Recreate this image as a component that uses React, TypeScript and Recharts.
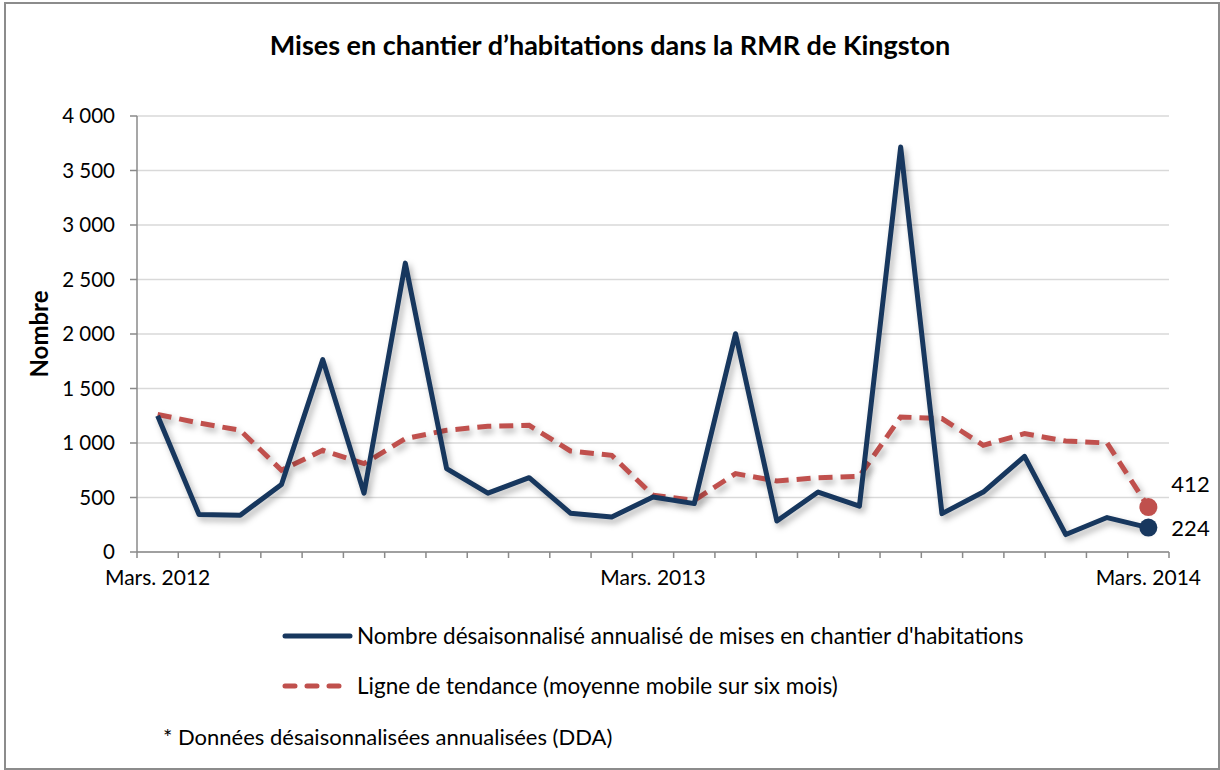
import React from "react";
import { LineChart, Line, XAxis, YAxis, CartesianGrid } from "recharts";

const months = [
	"Mars 2012", "Avr. 2012", "Mai 2012", "Juin 2012", "Juil. 2012", "Août 2012",
	"Sept. 2012", "Oct. 2012", "Nov. 2012", "Déc. 2012", "Janv. 2013", "Févr. 2013",
	"Mars 2013", "Avr. 2013", "Mai 2013", "Juin 2013", "Juil. 2013", "Août 2013",
	"Sept. 2013", "Oct. 2013", "Nov. 2013", "Déc. 2013", "Janv. 2014", "Févr. 2014",
	"Mars 2014",
];

const starts = [
	1250, 345, 337, 620, 1765, 540, 2650, 765, 540, 682, 356, 321,
	505, 444, 2003, 284, 550, 420, 3716, 352, 550, 878, 160, 316, 224,
];

const trend = [
	1262, 1184, 1117, 750, 933, 811, 1040, 1117, 1153, 1162, 927, 887,
	520, 474, 719, 651, 682, 694, 1239, 1224, 979, 1086, 1018, 1000, 412,
];

const tickLabels: Record<string, string> = {
	"Mars 2012": "Mars. 2012",
	"Mars 2013": "Mars. 2013",
	"Mars 2014": "Mars. 2014",
};

const yTicks = [0, 500, 1000, 1500, 2000, 2500, 3000, 3500, 4000];

const data = months.map((m, i) => ({ month: m, starts: starts[i], trend: trend[i] }));

const W = 1220;
const H = 770;
const PLOT_W = 1032;
const BAND = PLOT_W / months.length;
const FONT = "Lato, 'Open Sans', sans-serif";
const BLUE = "#17375E";
const RED = "#C0504D";
const AXIS = "#8a8a8a";

const fmt = (v: number) => (v >= 1000 ? `${Math.floor(v / 1000)} ${String(v % 1000).padStart(3, "0")}` : String(v));

const XTick = (props: any) => {
	const { x, y, payload, index } = props;
	const label = tickLabels[payload.value];
	return (
		<g>
			{index === 0 && <line x1={x - BAND / 2} x2={x - BAND / 2} y1={y - 6} y2={y} stroke={AXIS} strokeWidth={1.5} />}
			<line x1={x + BAND / 2} x2={x + BAND / 2} y1={y - 6} y2={y} stroke={AXIS} strokeWidth={1.5} />
			{label && (
				<text x={x} y={y} dy={27} textAnchor="middle" fontSize={21} fontFamily={FONT} fill="#000">
					{label}
				</text>
			)}
		</g>
	);
};

const lastDot = (color: string) => (props: any) => {
	const { cx, cy, index } = props;
	if (index !== months.length - 1) return <g key={`d${index}`} />;
	return <circle key={`d${index}`} cx={cx} cy={cy} r={9} fill={color} />;
};

const lastLabel = (shift: number) => (props: any) => {
	const { x, y, value, index } = props;
	if (index !== months.length - 1) return <g key={`l${index}`} />;
	return (
		<text key={`l${index}`} x={x + 23} y={y + shift} dy={8} fontSize={22} fontFamily={FONT} fill="#000">
			{value}
		</text>
	);
};

export default function App() {
	return (
		<div style={{ position: "absolute", left: 0, top: 0, width: W, height: H, background: "#fff", fontFamily: FONT }}>
			<style>{`.recharts-line-curve { filter: drop-shadow(3px 4px 3px rgba(0,0,0,0.3)); }`}</style>
			<div style={{ position: "absolute", left: 4, top: 2, width: 1212, height: 764, border: "2px solid #8c8c8c" }} />
			<div style={{ position: "absolute", left: 0, top: 28, width: W, textAlign: "center", fontSize: 27, fontWeight: 700, lineHeight: "34px" }}>
				Mises en chantier d’habitations dans la RMR de Kingston
			</div>
			<div
				style={{
					position: "absolute",
					left: 38,
					top: 334,
					transform: "translate(-50%, -50%) rotate(-90deg)",
					fontSize: 24,
					fontWeight: 700,
					whiteSpace: "nowrap",
				}}
			>
				Nombre
			</div>
			<div style={{ position: "absolute", left: 0, top: 0 }}>
				<LineChart width={W} height={H} data={data} margin={{ top: 116, right: 51, left: 0, bottom: 188 }}>
					<CartesianGrid vertical={false} stroke="#d9d9d9" strokeWidth={1.5} />
					<XAxis
						dataKey="month"
						interval={0}
						height={30}
						padding={{ left: BAND / 2, right: BAND / 2 }}
						tickLine={false}
						tickSize={6}
						tickMargin={0}
						axisLine={{ stroke: AXIS, strokeWidth: 1.5 }}
						tick={<XTick />}
					/>
					<YAxis
						width={137}
						domain={[0, 4000]}
						ticks={yTicks}
						tickFormatter={fmt}
						tickSize={7}
						tickMargin={15}
						axisLine={{ stroke: AXIS, strokeWidth: 1.5 }}
						tickLine={{ stroke: AXIS, strokeWidth: 1.5 }}
						tick={{ fontSize: 20.5, fontFamily: FONT, fill: "#000" }}
					/>
					<Line
						dataKey="trend"
						stroke={RED}
						strokeWidth={5}
						strokeDasharray="14 8"
						dot={lastDot(RED)}
						activeDot={false}
						label={lastLabel(-23)}
						isAnimationActive={false}
					/>
					<Line
						dataKey="starts"
						stroke={BLUE}
						strokeWidth={5}
						strokeLinejoin="round"
						dot={lastDot(BLUE)}
						activeDot={false}
						label={lastLabel(0)}
						isAnimationActive={false}
					/>
				</LineChart>
			</div>
			<svg style={{ position: "absolute", left: 0, top: 0 }} width={W} height={H}>
				<line x1={285} x2={350} y1={636} y2={636} stroke={BLUE} strokeWidth={5} strokeLinecap="round" />
				<line x1={285} x2={345} y1={686} y2={686} stroke={RED} strokeWidth={5} strokeLinecap="round" strokeDasharray="10 12" />
			</svg>
			<div style={{ position: "absolute", left: 357, top: 622, fontSize: 22.5, lineHeight: "28px", whiteSpace: "nowrap" }}>
				Nombre désaisonnalisé annualisé de mises en chantier d'habitations
			</div>
			<div style={{ position: "absolute", left: 357, top: 672, fontSize: 22.5, lineHeight: "28px", whiteSpace: "nowrap" }}>
				Ligne de tendance (moyenne mobile sur six mois)
			</div>
			<div style={{ position: "absolute", left: 163, top: 723, fontSize: 22, lineHeight: "28px", whiteSpace: "nowrap" }}>
				* Données désaisonnalisées annualisées (DDA)
			</div>
		</div>
	);
}
